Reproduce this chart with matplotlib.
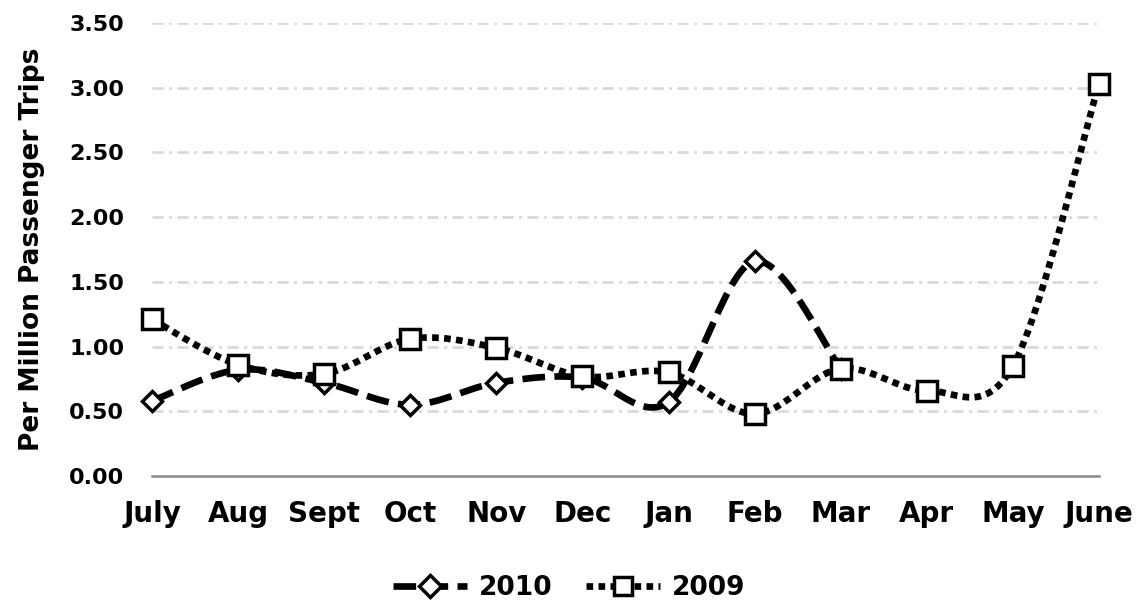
import numpy as np
import matplotlib
matplotlib.use("Agg")
import matplotlib.pyplot as plt
from matplotlib.lines import Line2D

# Data:
months = ["July", "Aug", "Sept", "Oct", "Nov", "Dec", "Jan", "Feb", "Mar", "Apr", "May", "June"]
rate_2010 = [0.58, 0.82, 0.72, 0.55, 0.72, 0.76, 0.57, 1.66, 0.83]
rate_2009 = [1.21, 0.86, 0.79, 1.06, 0.99, 0.77, 0.80, 0.48, 0.83, 0.66, 0.85, 3.03]
yticks = [0.0, 0.5, 1.0, 1.5, 2.0, 2.5, 3.0, 3.5]


def smooth(x, y, n=30):
    # Catmull-Rom style smoothing, similar to Excel's smoothed lines
    x = np.asarray(x, float)
    y = np.asarray(y, float)
    px = np.concatenate([[x[0]], x, [x[-1]]])
    py = np.concatenate([[y[0]], y, [y[-1]]])
    xs, ys = [], []
    t = np.linspace(0, 1, n)
    for i in range(1, len(px) - 2):
        p0, p1, p2, p3 = (np.array([px[j], py[j]]) for j in (i - 1, i, i + 1, i + 2))
        c1 = p1 + (p2 - p0) / 6
        c2 = p2 - (p3 - p1) / 6
        b = ((1 - t) ** 3)[:, None] * p1 + (3 * (1 - t) ** 2 * t)[:, None] * c1 \
            + (3 * (1 - t) * t ** 2)[:, None] * c2 + (t ** 3)[:, None] * p2
        xs.extend(b[:, 0])
        ys.extend(b[:, 1])
    return np.array(xs), np.array(ys)


plt.rcParams['font.family'] = ['DejaVu Sans']
plt.rcParams['font.weight'] = 'bold'

fig = plt.figure(figsize=(11.45, 6.06), dpi=100)
ax = fig.add_axes([0.1328, 0.2145, 0.9598 - 0.1328, 0.962 - 0.2145])

dash10 = (0, (3.4, 1.4))
dot09 = (0, (1, 0.8))

x10 = np.arange(len(rate_2010))
x09 = np.arange(len(rate_2009))

sx, sy = smooth(x10, rate_2010)
ax.plot(sx, sy, color="black", lw=4.8, ls=dash10, dash_capstyle="butt",
        zorder=3, clip_on=False)
ax.plot(x10, rate_2010, ls="none", marker="D", ms=10, mfc="white", mec="black",
        mew=2.5, zorder=4, clip_on=False)

sx, sy = smooth(x09, rate_2009)
ax.plot(sx, sy, color="black", lw=4.8, ls=dot09, dash_capstyle="butt",
        zorder=3, clip_on=False)
ax.plot(x09, rate_2009, ls="none", marker="s", ms=15, mfc="white", mec="black",
        mew=2.5, zorder=4, clip_on=False)

ax.set_xlim(0, len(months) - 1)
ax.set_ylim(0, 3.5)
ax.set_xticks(x09)
ax.set_xticklabels(months, fontsize=20, fontweight="bold")
ax.set_yticks(yticks)
ax.set_yticklabels(["%.2f" % v for v in yticks], fontsize=16, fontweight="bold")
ax.tick_params(axis="both", length=0)
ax.tick_params(axis="y", pad=20)
ax.tick_params(axis="x", pad=17)

for v in yticks[1:]:
    ax.axhline(v, color="#d9d9d9", lw=2, ls=(0, (4, 2, 1, 2)), zorder=1)

for s in ["top", "right", "left"]:
    ax.spines[s].set_visible(False)
ax.spines["bottom"].set_color("#898989")
ax.spines["bottom"].set_linewidth(1.8)

ax.set_ylabel("Per Million Passenger Trips", fontsize=19, fontweight="bold")
ax.yaxis.set_label_coords(-0.113, 0.5)

handles = [
    Line2D([], [], color="black", lw=4.8, ls=dash10, marker="D", ms=11,
           mfc="white", mec="black", mew=2.5),
    Line2D([], [], color="black", lw=4.8, ls=dot09, marker="s", ms=13,
           mfc="white", mec="black", mew=2.5),
]
fig.legend(handles, ["2010", "2009"], loc="center", bbox_to_anchor=(0.497, 0.03),
           ncol=2, frameon=False, prop={"size": 19, "weight": "bold"},
           handlelength=2.8, columnspacing=1.25, handletextpad=0.45)

plt.savefig("out.png", dpi=100)
